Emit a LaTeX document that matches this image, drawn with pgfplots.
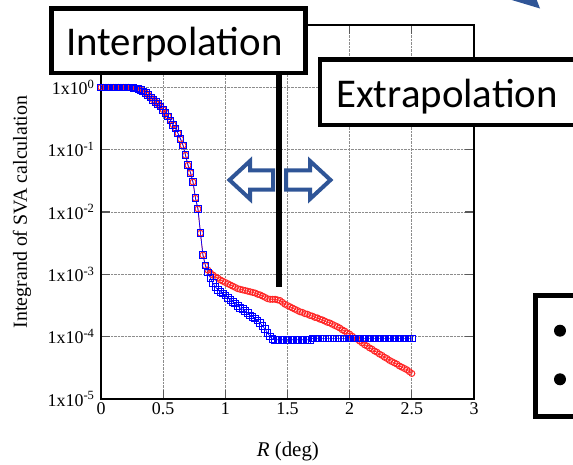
\documentclass[border=0pt]{standalone}
\usepackage{fontspec}
\setmainfont{Liberation Serif}
\newfontfamily\carlito{Carlito}
\usepackage{pgfplots}
\usepackage{pgfplotstable}
\pgfplotsset{compat=1.18}
\definecolor{slideblue}{RGB}{47,85,151}

% shared part of both curves (R in deg, integrand)
\pgfplotstableread{
x y
0.00 1
0.02 1
0.04 1
0.06 1
0.08 1
0.10 1
0.12 1
0.14 1
0.16 1
0.18 1
0.20 1
0.22 1
0.24 0.989
0.26 0.977
0.28 0.955
0.30 0.933
0.32 0.902
0.34 0.861
0.36 0.813
0.38 0.750
0.40 0.692
0.42 0.631
0.44 0.582
0.46 0.537
0.48 0.490
0.50 0.437
0.52 0.389
0.54 0.343
0.56 0.295
0.58 0.251
0.60 0.219
0.62 0.182
0.64 0.148
0.66 0.117
0.68 0.0813
0.70 0.0562
0.72 0.0427
0.74 0.0302
0.76 0.0166
0.78 0.0112
0.80 0.00457
0.82 0.00204
0.84 0.00138
0.86 1.07e-3
0.88 8.71e-4
0.90 7.24e-4
0.92 6.31e-4
0.94 5.62e-4
0.96 5.25e-4
0.98 4.90e-4
1.00 4.57e-4
1.02 4.17e-4
1.04 3.89e-4
1.06 3.63e-4
1.08 3.39e-4
1.10 3.09e-4
1.12 2.88e-4
1.14 2.75e-4
1.16 2.57e-4
1.18 2.40e-4
1.20 2.19e-4
1.22 2.09e-4
1.24 1.95e-4
1.26 1.82e-4
1.28 1.66e-4
1.30 1.48e-4
1.32 1.32e-4
1.34 1.15e-4
1.36 1.00e-4
1.38 9.12e-5
1.40 8.9e-5
1.42 8.9e-5
1.44 8.9e-5
1.46 8.9e-5
1.48 8.9e-5
1.50 8.9e-5
1.52 8.9e-5
1.54 8.9e-5
1.56 8.9e-5
1.58 8.9e-5
1.60 8.9e-5
1.62 8.9e-5
1.64 8.9e-5
1.66 8.9e-5
1.68 8.9e-5
1.70 9.4e-5
1.72 9.4e-5
1.74 9.4e-5
1.76 9.4e-5
1.78 9.4e-5
1.80 9.4e-5
1.82 9.4e-5
1.84 9.4e-5
1.86 9.4e-5
1.88 9.4e-5
1.90 9.4e-5
1.92 9.4e-5
1.94 9.4e-5
1.96 9.4e-5
1.98 9.4e-5
2.00 9.4e-5
2.02 9.4e-5
2.04 9.4e-5
2.06 9.4e-5
2.08 9.4e-5
2.10 9.4e-5
2.12 9.4e-5
2.14 9.4e-5
2.16 9.4e-5
2.18 9.4e-5
2.20 9.4e-5
2.22 9.4e-5
2.24 9.4e-5
2.26 9.4e-5
2.28 9.4e-5
2.30 9.4e-5
2.32 9.4e-5
2.34 9.4e-5
2.36 9.4e-5
2.38 9.4e-5
2.40 9.4e-5
2.42 9.4e-5
2.44 9.4e-5
2.46 9.4e-5
2.48 9.4e-5
2.50 9.4e-5
}\bluedata

\pgfplotstableread{
x y
0.00 1
0.02 1
0.04 1
0.06 1
0.08 1
0.10 1
0.12 1
0.14 1
0.16 1
0.18 1
0.20 1
0.22 1
0.24 0.989
0.26 0.977
0.28 0.955
0.30 0.933
0.32 0.902
0.34 0.861
0.36 0.813
0.38 0.750
0.40 0.692
0.42 0.631
0.44 0.582
0.46 0.537
0.48 0.490
0.50 0.437
0.52 0.389
0.54 0.343
0.56 0.295
0.58 0.251
0.60 0.219
0.62 0.182
0.64 0.148
0.66 0.117
0.68 0.0813
0.70 0.0562
0.72 0.0427
0.74 0.0302
0.76 0.0166
0.78 0.0112
0.80 0.00457
0.82 0.00204
0.84 0.00138
0.86 1.17e-3
0.88 1.05e-3
0.90 9.77e-4
0.92 9.12e-4
0.94 8.71e-4
0.96 8.13e-4
0.98 7.76e-4
1.00 7.41e-4
1.02 7.08e-4
1.04 6.76e-4
1.06 6.46e-4
1.08 6.17e-4
1.10 5.89e-4
1.12 5.75e-4
1.14 5.62e-4
1.16 5.50e-4
1.18 5.37e-4
1.20 5.25e-4
1.22 5.13e-4
1.24 5.01e-4
1.26 4.79e-4
1.28 4.68e-4
1.30 4.47e-4
1.32 4.27e-4
1.34 4.07e-4
1.36 3.98e-4
1.38 3.98e-4
1.40 3.98e-4
1.42 3.89e-4
1.44 3.80e-4
1.46 3.55e-4
1.48 3.31e-4
1.50 3.16e-4
1.52 3.02e-4
1.54 2.88e-4
1.56 2.75e-4
1.58 2.63e-4
1.60 2.51e-4
1.62 2.45e-4
1.64 2.34e-4
1.66 2.29e-4
1.68 2.19e-4
1.70 2.14e-4
1.72 2.04e-4
1.74 2.00e-4
1.76 1.91e-4
1.78 1.86e-4
1.80 1.78e-4
1.82 1.70e-4
1.84 1.66e-4
1.86 1.58e-4
1.88 1.51e-4
1.90 1.45e-4
1.92 1.38e-4
1.94 1.29e-4
1.96 1.23e-4
1.98 1.15e-4
2.00 1.10e-4
2.02 1.02e-4
2.04 9.55e-5
2.06 9.12e-5
2.08 8.51e-5
2.10 7.94e-5
2.12 7.41e-5
2.14 7.08e-5
2.16 6.61e-5
2.18 6.31e-5
2.20 5.89e-5
2.22 5.62e-5
2.24 5.25e-5
2.26 5.01e-5
2.28 4.68e-5
2.30 4.47e-5
2.32 4.17e-5
2.34 3.98e-5
2.36 3.80e-5
2.38 3.63e-5
2.40 3.39e-5
2.42 3.24e-5
2.44 3.09e-5
2.46 2.95e-5
2.48 2.75e-5
2.50 2.57e-5
}\reddata

\begin{document}
\begin{tikzpicture}
\useasboundingbox (0,0) rectangle (573bp,-465bp);
\begin{axis}[
    at={(101bp,-399bp)}, anchor=south west,
    scale only axis, width=373bp, height=374bp,
    xmin=0, xmax=3,
    ymode=log, ymin=1e-5, ymax=10,
    xtick={0,0.5,1,1.5,2,2.5,3},
    xticklabels={0,0.5,1,1.5,2,2.5,3},
    ytick={1e-5,1e-4,1e-3,1e-2,1e-1,1},
    yticklabels={1x10\textsuperscript{-5},1x10\textsuperscript{-4},1x10\textsuperscript{-3},1x10\textsuperscript{-2},1x10\textsuperscript{-1},1x10\textsuperscript{0}},
    xminorticks=false, yminorticks=false,
    grid=major,
    grid style={densely dotted, line width=0.8bp, black!45},
    axis line style={line width=1.6bp},
    major tick length=9bp,
    tick style={line width=1.2bp, black!65},
    tick align=inside,
    tick label style={font=\fontsize{18}{18}\selectfont},
    yticklabel style={xshift=-3bp},
    xlabel={\textit{R} (deg)},
    xlabel style={font=\fontsize{21}{21}\selectfont, at={(axis description cs:0.501,-0.154)}, anchor=base},
    ylabel={Integrand of SVA calculation},
    ylabel style={font=\fontsize{20}{20}\selectfont, at={(axis description cs:-0.212,0.5)}, anchor=center},
]
\addplot[red!85, line width=0.7bp, mark=o, mark size=3bp, mark options={line width=1bp}] table {\reddata};
\addplot[blue, line width=0.7bp, mark=square, mark size=3.3bp, mark options={line width=1bp}] table {\bluedata};
\end{axis}

\begin{scope}[x=1bp, y=-1bp]
  % divider line
  \fill[black] (276.3,70) rectangle (281.7,287);
  % arrows
  \draw[slideblue, line width=4bp, fill=white, line join=miter]
    (229.5,180) -- (250,161) -- (250,170.3) -- (273,170.3) -- (273,189.7) -- (250,189.7) -- (250,199) -- cycle;
  \draw[slideblue, line width=4bp, fill=white, line join=miter]
    (330.5,180) -- (310,161) -- (310,170.3) -- (286,170.3) -- (286,189.7) -- (310,189.7) -- (310,199) -- cycle;
  % boxes
  \draw[line width=4.6bp, fill=white] (51.7,8.7) rectangle (305.3,73);
  \node[anchor=base west, inner sep=0pt, font=\carlito\fontsize{41}{44}\selectfont] at (66,55) {Interpolation};
  \draw[line width=4.6bp, fill=white] (320,59.7) rectangle (620,125);
  \node[anchor=base west, inner sep=0pt, font=\carlito\fontsize{41}{44}\selectfont] at (336,107.3) {Extrapolation};
  \draw[line width=5bp, fill=white] (535.8,295.8) rectangle (620,416);
  \fill[black] (560,330.7) circle (6);
  \fill[black] (560,379.3) circle (6);
  % piece of an arrow at the top edge
  \fill[slideblue] (505,-2) -- (536,-2) -- (540,8.5) -- cycle;
\end{scope}
\end{tikzpicture}
\end{document}
